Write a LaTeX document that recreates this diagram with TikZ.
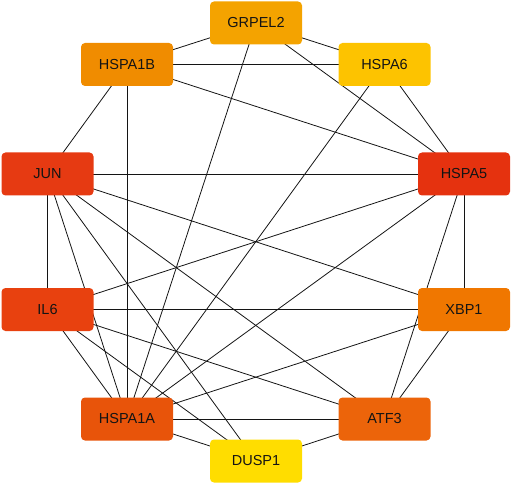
\documentclass[tikz,border=0pt]{standalone}
\usepackage{fontspec}
\setmainfont{Liberation Sans}
\usetikzlibrary{backgrounds}
\definecolor{cGRPEL}{HTML}{F4A300}
\definecolor{cHSPAoneB}{HTML}{F08C00}
\definecolor{cHSPAsix}{HTML}{FDC300}
\definecolor{cJUN}{HTML}{E63A12}
\definecolor{cHSPAfive}{HTML}{E5320F}
\definecolor{cIL}{HTML}{E8410F}
\definecolor{cXBP}{HTML}{F07700}
\definecolor{cHSPAoneA}{HTML}{E8540A}
\definecolor{cATF}{HTML}{EC640A}
\definecolor{cDUSP}{HTML}{FFDD00}
\definecolor{Ink}{HTML}{141414}
\tikzset{
  gene/.style={rectangle,rounded corners=4pt,minimum width=92pt,minimum height=43pt,
    inner sep=0pt,font=\fontsize{14.5}{16}\selectfont,text=Ink},
  link/.style={Ink,line width=0.8pt}
}
\begin{document}
\begin{tikzpicture}[x=1pt,y=-1pt]
  \useasboundingbox (0,0) rectangle (512,484);
  \foreach \nm/\x/\y/\col/\lab in {
    grpel/256/23/cGRPEL/GRPEL2,
    hspaoneb/127/64.5/cHSPAoneB/HSPA1B,
    hspasix/384.5/64.5/cHSPAsix/HSPA6,
    jun/47.5/174/cJUN/JUN,
    hspafive/464/174/cHSPAfive/HSPA5,
    il/47.5/309.5/cIL/IL6,
    xbp/464/309.5/cXBP/XBP1,
    hspaonea/127/419/cHSPAoneA/HSPA1A,
    atf/384.5/419/cATF/ATF3,
    dusp/256/461/cDUSP/DUSP1} {
    \node[gene,fill=\col] (\nm) at (\x,\y) {\lab};
  }
  \begin{pgfonlayer}{background}
    \foreach \a/\b in {
      grpel/hspaoneb, grpel/hspasix, grpel/hspaonea, grpel/hspafive,
      hspaoneb/hspasix, hspaoneb/jun, hspaoneb/hspaonea, hspaoneb/hspafive,
      hspasix/hspaonea, hspasix/hspafive,
      jun/hspafive, jun/il, jun/xbp, jun/hspaonea, jun/dusp, jun/atf,
      hspafive/il, hspafive/hspaonea, hspafive/xbp, hspafive/atf,
      il/xbp, il/hspaonea, il/dusp, il/atf,
      xbp/hspaonea, xbp/atf,
      hspaonea/atf, hspaonea/dusp, atf/dusp} {
      \draw[link] (\a.center) -- (\b.center);
    }
  \end{pgfonlayer}
\end{tikzpicture}
\end{document}
